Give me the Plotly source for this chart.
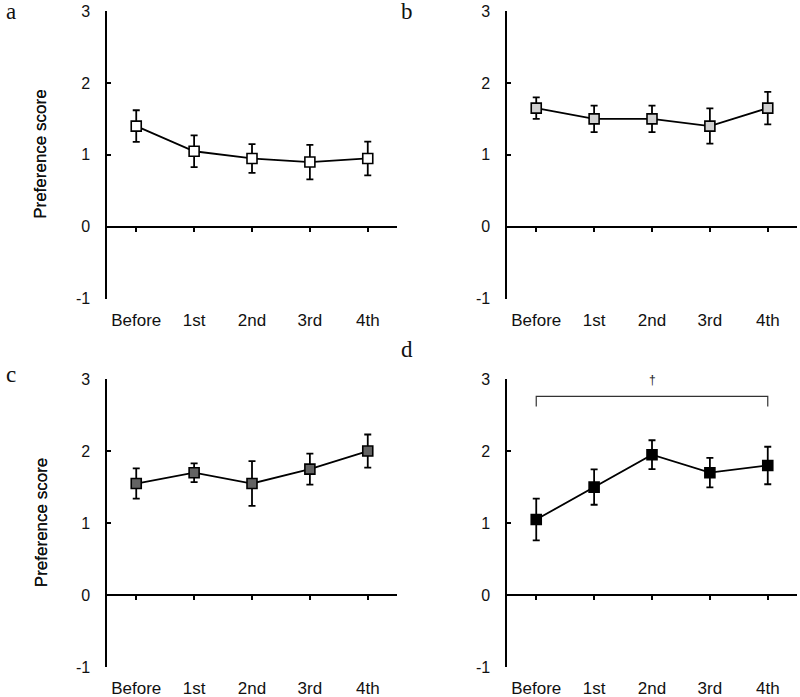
import plotly.graph_objects as go

categories = ["Before", "1st", "2nd", "3rd", "4th"]
x_index = [0, 1, 2, 3, 4]
y_ticks = [-1, 0, 1, 2, 3]
y_tick_text = ["-1", "0", "1", "2", "3"]

panel_names = ["a", "b", "c", "d"]
means_a = [1.40, 1.05, 0.95, 0.90, 0.95]
err_a = [0.22, 0.22, 0.20, 0.24, 0.235]
means_b = [1.65, 1.50, 1.50, 1.40, 1.65]
err_b = [0.15, 0.185, 0.185, 0.245, 0.225]
means_c = [1.55, 1.70, 1.55, 1.75, 2.00]
err_c = [0.21, 0.13, 0.31, 0.215, 0.23]
means_d = [1.05, 1.50, 1.95, 1.70, 1.80]
err_d = [0.29, 0.245, 0.20, 0.205, 0.26]

# significance bracket in panel d
bracket_x = [0, 0, 4, 4]
bracket_y = [2.62, 2.76, 2.76, 2.62]
dagger_x = 2
dagger_y = 2.99

means = [means_a, means_b, means_c, means_d]
errs = [err_a, err_b, err_c, err_d]
fills = ["#ffffff", "#d0d0d0", "#636363", "#000000"]

W, H = 800, 697
# pixel geometry of the panels: (left, right, top(y=3), bottom(y=-1))
px_boxes = [
    (107.3, 396.7, 11.0, 298.7),
    (507.3, 796.7, 11.0, 298.7),
    (107.3, 396.7, 379.0, 667.3),
    (507.3, 796.7, 379.0, 667.3),
]
label_pos = [(11, 12), (407, 12), (11, 374), (407, 349)]


def fx(px):
    return px / W


def fy(py):
    return 1 - py / H


fig = go.Figure()
layout = dict(
    width=W, height=H,
    margin=dict(l=0, r=0, t=0, b=0, autoexpand=False),
    paper_bgcolor="white", plot_bgcolor="white",
    showlegend=False,
    font=dict(family="Liberation Sans, Arial, sans-serif", color="#111111"),
)
annotations = []

for i in range(4):
    n = i + 1
    xs = "x" if n == 1 else f"x{n}"
    ys = "y" if n == 1 else f"y{n}"
    l, r, t, b = px_boxes[i]
    xdom = [fx(l), fx(r)]
    ydom = [fy(b), fy(t)]
    y0_paper = ydom[0] + (0 - (-1)) / 4 * (ydom[1] - ydom[0])

    fig.add_trace(go.Scatter(
        x=x_index, y=means[i], xaxis=xs, yaxis=ys,
        mode="lines+markers",
        line=dict(color="black", width=1.8),
        marker=dict(symbol="square", size=10, color=fills[i],
                    line=dict(color="black", width=1.6)),
        error_y=dict(type="data", array=errs[i], visible=True,
                     color="black", thickness=1.8, width=3.5),
        cliponaxis=False,
    ))
    # invisible trace so that the zero-line axis is drawn
    fig.add_trace(go.Scatter(
        x=[None], y=[None], xaxis=f"x{n + 4}", yaxis=ys,
        mode="markers", hoverinfo="skip",
    ))

    layout[f"xaxis{n if n > 1 else ''}"] = dict(
        domain=xdom, anchor=ys, range=[-0.5, 4.5],
        tickvals=x_index, ticktext=categories,
        showline=False, ticks="", showgrid=False, zeroline=False,
        tickfont=dict(size=17, color="#111111"),
        ticklabelstandoff=9, automargin=False,
    )
    layout[f"yaxis{n if n > 1 else ''}"] = dict(
        domain=ydom, anchor=xs, range=[-1, 3],
        tickvals=y_ticks, ticktext=y_tick_text,
        ticks="inside", ticklen=4, tickwidth=1.8,
        tickcolor="black", showline=True, linecolor="black", linewidth=1.8,
        showgrid=False, zeroline=False,
        tickfont=dict(size=16, color="#111111"),
        ticklabelstandoff=12, automargin=False,
    )
    # zero axis line with downward ticks
    layout[f"xaxis{n + 4}"] = dict(
        overlaying=xs, anchor="free", position=y0_paper,
        range=[-0.5, 4.5], tickvals=x_index, showticklabels=False,
        ticks="outside", ticklen=4, tickwidth=1.8, tickcolor="black",
        showline=True, linecolor="black", linewidth=1.8,
        showgrid=False, zeroline=False, automargin=False,
    )

    annotations.append(dict(
        text="Preference score", textangle=-90,
        xref="paper", yref="paper",
        x=fx(41), y=(ydom[0] + ydom[1]) / 2,
        showarrow=False, font=dict(size=17, color="#111111"),
        xanchor="center", yanchor="middle",
    ))
    lx, ly = label_pos[i]
    annotations.append(dict(
        text=panel_names[i], xref="paper", yref="paper",
        x=fx(lx), y=fy(ly), showarrow=False,
        font=dict(size=23, family="Liberation Serif, Times New Roman, serif",
                  color="#111111"),
        xanchor="center", yanchor="middle",
    ))

fig.add_trace(go.Scatter(
    x=bracket_x, y=bracket_y, xaxis="x4", yaxis="y4",
    mode="lines", line=dict(color="#333333", width=1.2),
    hoverinfo="skip", cliponaxis=False,
))
annotations.append(dict(
    text="†", xref="x4", yref="y4", x=dagger_x, y=dagger_y,
    showarrow=False, font=dict(size=12, color="#222222"),
))

layout["annotations"] = annotations
fig.update_layout(**layout)
fig.write_html(
    "out.html",
    config={"displayModeBar": False},
    post_script="document.body.style.margin='0px';document.body.style.padding='0px';",
)
